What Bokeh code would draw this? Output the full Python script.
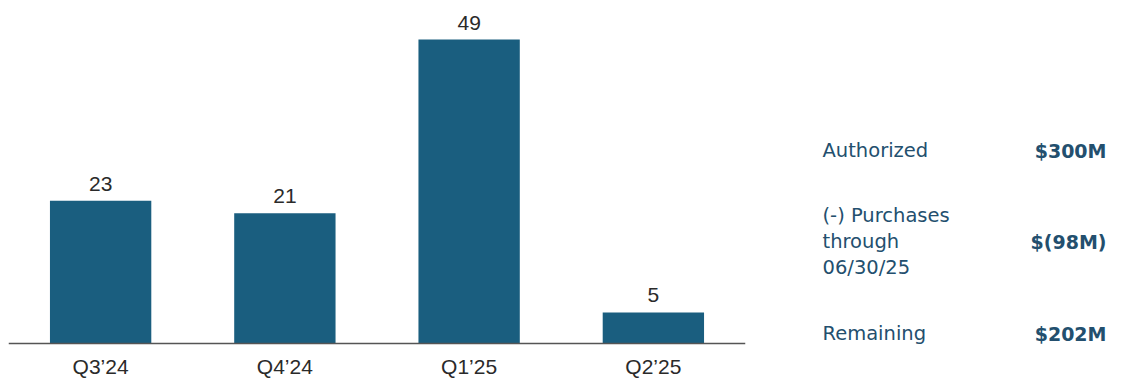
from bokeh.plotting import figure
from bokeh.models import ColumnDataSource, Range1d, FactorRange
from bokeh.layouts import row
from bokeh.core.properties import value
from bokeh.embed import file_html
from bokeh.resources import INLINE

quarters = ["Q3\u201924", "Q4\u201924", "Q1\u201925", "Q2\u201925"]
counts = [23, 21, 49, 5]

summary_labels = ["Authorized", "(-) Purchases\nthrough\n06/30/25", "Remaining"]
summary_values = ["$300M", "$(98M)", "$202M"]

BAR = "#1a5e7f"
TXT = "#2a2a2a"
BLUE = "#234f6e"

src = ColumnDataSource(dict(q=quarters, v=counts, t=[str(c) for c in counts]))

p = figure(x_range=FactorRange(*quarters, range_padding=0), y_range=Range1d(-6.45, 55.3),
           width=753, height=383, output_backend="svg", toolbar_location=None,
           min_border_left=8, min_border_right=8, min_border_top=0, min_border_bottom=0)
p.vbar(x="q", top="v", width=0.55, source=src, color=BAR, line_color=None)
p.text(x="q", y="v", text="t", source=src, text_align="center", text_baseline="bottom",
       y_offset=-10, text_font=value("Liberation Sans"), text_font_size="21px", text_color=TXT)
p.yaxis.visible = False
p.xgrid.visible = False
p.ygrid.visible = False
p.outline_line_color = None
p.xaxis.fixed_location = 0
p.xaxis.axis_line_color = "#555555"
p.xaxis.axis_line_width = 1.5
p.xaxis.major_tick_line_color = None
p.xaxis.minor_tick_line_color = None
p.xaxis.major_tick_out = 0
p.xaxis.major_label_standoff = 12
p.xaxis.major_label_text_font = "Liberation Sans"
p.xaxis.major_label_text_font_size = "21px"
p.xaxis.major_label_text_color = TXT
p.xaxis.major_label_text_font_style = "normal"

# right-hand summary panel (data y = page y)
label_y = [150, 241, 333]
tsrc = ColumnDataSource(dict(lab=summary_labels, val=summary_values, y=label_y,
                             xl=[822] * 3, xr=[1106] * 3))
q = figure(x_range=Range1d(753, 1121), y_range=Range1d(383, 0), width=368, height=383,
           output_backend="svg", toolbar_location=None,
           min_border_left=0, min_border_right=0, min_border_top=0, min_border_bottom=0)
q.text(x="xl", y="y", text="lab", source=tsrc, text_align="left", text_baseline="middle",
       text_font=value("DejaVu Sans"), text_font_size="19.5px", text_color=BLUE, text_line_height=1.11)
q.text(x="xr", y="y", text="val", source=tsrc, text_align="right", text_baseline="middle",
       text_font=value("DejaVu Sans"), text_font_size="19px", text_font_style="bold", text_color=BLUE)
q.axis.visible = False
q.grid.visible = False
q.outline_line_color = None

layout = row(p, q)
open("out.html", "w").write(file_html(layout, INLINE))
